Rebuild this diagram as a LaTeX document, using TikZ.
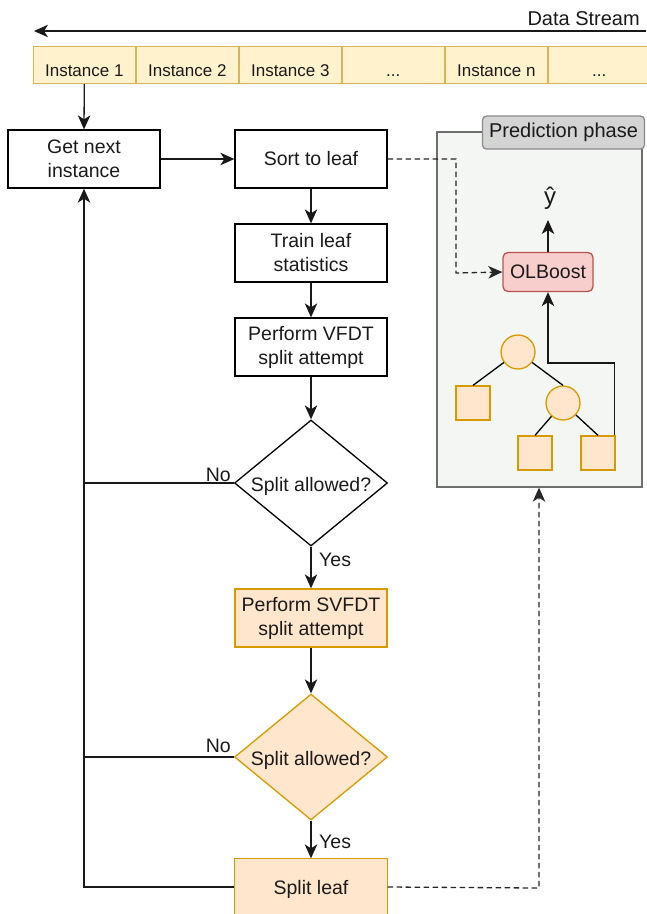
\documentclass[tikz,border=0pt]{standalone}
\usepackage{fontspec}
\setmainfont{Liberation Sans}
\usetikzlibrary{arrows.meta,shapes.geometric}
\definecolor{yelfill}{HTML}{FFF2CC}
\definecolor{yeldraw}{HTML}{D6B656}
\definecolor{orfill}{HTML}{FFE6CC}
\definecolor{ordraw}{HTML}{D79B00}
\definecolor{redfill}{HTML}{F8CECC}
\definecolor{reddraw}{HTML}{B85450}
\definecolor{panelfill}{HTML}{F4F6F4}
\definecolor{paneldraw}{HTML}{6E6E6E}
\definecolor{tabfill}{HTML}{D4D4D4}
\definecolor{txt}{HTML}{1A1A1A}
\tikzset{
  mainfont/.style={font=\fontsize{19.5}{24}\selectfont, text=txt},
  inst/.style={draw=yeldraw, fill=yelfill, line width=1.3pt, minimum width=101.7pt, minimum height=37pt, inner sep=0pt},
  insttxt/.style={font=\fontsize{17}{19}\selectfont, text=txt, inner sep=0pt, anchor=base},
  box/.style={draw=black, line width=1.3pt, minimum width=152pt, minimum height=58pt, inner sep=0pt, align=center, mainfont},
  obox/.style={box, draw=ordraw, fill=orfill},
  dia/.style={diamond, draw=black, line width=1.3pt, minimum width=153pt, minimum height=126pt, aspect=1.214, inner sep=0pt},
  odia/.style={dia, draw=ordraw, fill=orfill},
  conn/.style={line width=1.3pt, draw=black!90},
  arr/.style={conn, -{Stealth[length=14pt, width=12.5pt, inset=4pt]}},
  darr/.style={line width=1.3pt, draw=black!85, dash pattern=on 5.5pt off 3.5pt, -{Stealth[length=14pt, width=12.5pt, inset=4pt]}},
  lbl/.style={mainfont, inner sep=0pt},
  leafsq/.style={draw=ordraw, fill=orfill, line width=1.3pt, minimum width=34pt, minimum height=34pt, inner sep=0pt},
  innode/.style={circle, draw=ordraw, fill=orfill, line width=1.3pt, minimum size=34pt, inner sep=0pt},
}
\begin{document}
\begin{tikzpicture}[x=1pt, y=-1pt]
\useasboundingbox (0,0) rectangle (646,914);
% data stream
\coordinate (dsR) at (646,31);
\coordinate (dsL) at (34,31);
\draw[arr] (dsR) -- (dsL);
\node[lbl, font=\fontsize{20}{23}\selectfont, anchor=base east] (dslbl) at (640,25) {Data Stream};
% instances
\node[inst] (i1) at (84.3,65) {};
\node[inst, anchor=west] (i2) at (i1.east) {};
\node[inst, anchor=west] (i3) at (i2.east) {};
\node[inst, anchor=west] (i4) at (i3.east) {};
\node[inst, anchor=west] (i5) at (i4.east) {};
\node[inst, anchor=west] (i6) at (i5.east) {};
\node[insttxt] (t1) at (i1.center |- 0,76) {Instance 1};
\node[insttxt] (t2) at (i2.center |- 0,76) {Instance 2};
\node[insttxt] (t3) at (i3.center |- 0,76) {Instance 3};
\node[insttxt] (t4) at (i4.center |- 0,76) {...};
\node[insttxt] (t5) at (i5.center |- 0,76) {Instance n};
\node[insttxt] (t6) at (i6.center |- 0,76) {...};
% prediction panel
\node[draw=paneldraw, fill=panelfill, line width=1.3pt, minimum width=205pt, minimum height=355pt, inner sep=0pt] (panel) at (539.5,309.5) {};
\node[draw=paneldraw!80, fill=tabfill, rounded corners=4pt, line width=1.3pt, minimum width=162pt, minimum height=33pt, inner sep=0pt, mainfont, font=\fontsize{20}{23}\selectfont] (tab) at (563.5,132.5) {Prediction phase};
% flow boxes
\node[box] (get) at (84,159) {Get next\\instance};
\node[box] (sort) at (311,159) {Sort to leaf};
\node[box] (train) at (311,253) {Train leaf\\statistics};
\node[box] (vfdt) at (311,347) {Perform VFDT\\split attempt};
\node[dia] (d1) at (311,483) {};
\node[lbl] (d1t) at (311,486.5) {Split allowed?};
\node[obox] (svfdt) at (311,618) {Perform SVFDT\\split attempt};
\node[odia] (d2) at (311,757) {};
\node[lbl] (d2t) at (311,760) {Split allowed?};
\node[obox, draw=none, minimum height=55pt] (split) at (311,886.5) {};
\node[lbl] (splittxt) at (311,889) {Split leaf};
\draw[conn, draw=ordraw] (split.south west) -- (split.north west) -- (split.north east) -- (split.south east);
% arrows
\draw[arr] (i1.south) -- (get.north);
\draw[arr] (get.east) -- (sort.west);
\draw[arr] (sort.south) -- (train.north);
\draw[arr] (train.south) -- (vfdt.north);
\draw[arr] (vfdt.south) -- (d1.north);
\draw[arr] (d1.south) -- (svfdt.north);
\draw[arr] (svfdt.south) -- (d2.north);
\draw[arr] (d2.south) -- (split.north);
\node[lbl, anchor=base west] (yes1) at (319,566) {Yes};
\node[lbl, anchor=base west] (yes2) at (319,848) {Yes};
\node[lbl, anchor=base east] (no1) at (231,481) {No};
\node[lbl, anchor=base east] (no2) at (231,752) {No};
\coordinate (back) at (84,887);
\draw[conn] (d1.west) -- (84,483);
\draw[conn] (d2.west) -- (84,757);
\draw[arr] (split.west |- back) -- (back) -- (get.south);
% prediction content
\node[draw=reddraw, fill=redfill, rounded corners=5pt, line width=1.3pt, minimum width=90pt, minimum height=39pt, inner sep=0pt, mainfont] (olb) at (548,272) {OLBoost};
\node[lbl, font=\fontsize{24}{26}\selectfont] (yhat) at (550,198) {ŷ};
\draw[arr] (olb.north) -- (548,220);
\node[innode] (root) at (518,352) {};
\node[innode] (c2) at (563,403) {};
\node[leafsq] (l1) at (473,403) {};
\node[leafsq] (l2) at (535,453) {};
\node[leafsq] (l3) at (598,453) {};
\draw[line width=1.3pt] (root) -- (l1.north);
\draw[line width=1.3pt] (root) -- (c2.north);
\draw[line width=1.3pt] (c2) -- (l2.north);
\draw[line width=1.3pt] (c2) -- (l3.north);
\draw[arr] (l3.north east) ++(-1,0) coordinate (l3t) -- (l3t |- 0,363) -- (548,363) -- (olb.south);
% dashed connectors
\draw[darr] (sort.east) -- (456,159) -- (456,273) -- (olb.west);
\draw[darr] (split.east |- back) -- (539,888) -- (panel.south -| 539,0);
\end{tikzpicture}
\end{document}
